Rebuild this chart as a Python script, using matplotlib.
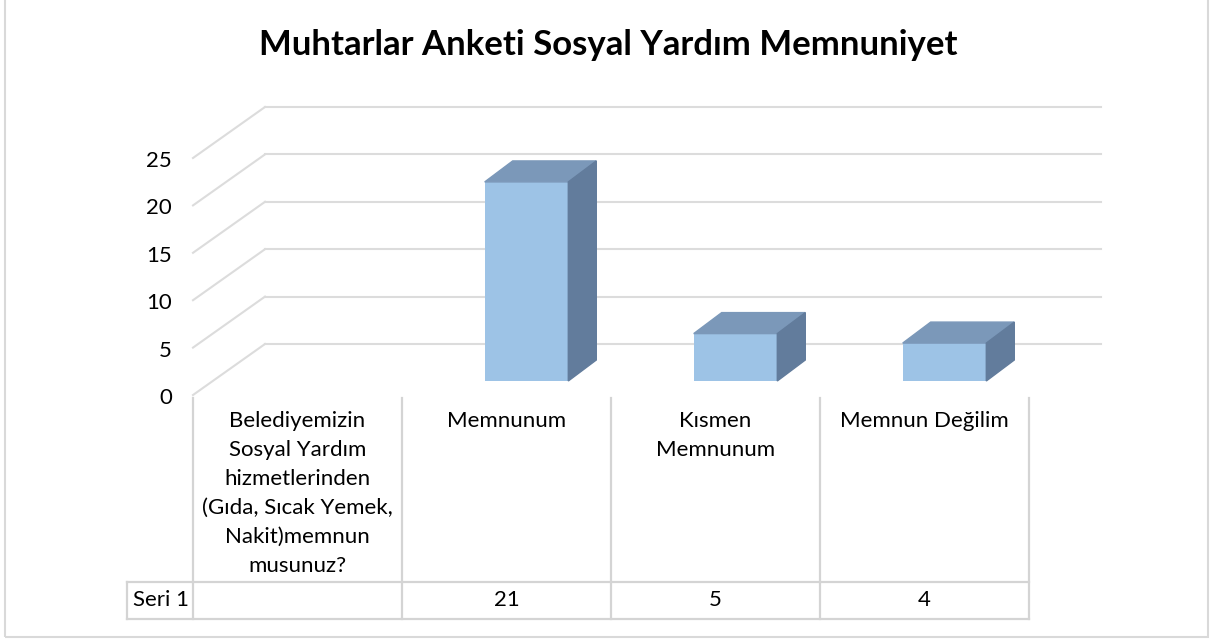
import numpy as np
import matplotlib.pyplot as plt
import matplotlib.transforms as mtransforms
from matplotlib.patches import Polygon, Rectangle

plt.rcParams['font.family'] = ['Lato', 'DejaVu Sans']

title = "Muhtarlar Anketi Sosyal Yardım Memnuniyet"
categories = [
    "Belediyemizin\nSosyal Yardım\nhizmetlerinden\n(Gıda, Sıcak Yemek,\nNakit)memnun\nmusunuz?",
    "Memnunum",
    "Kısmen\nMemnunum",
    "Memnun Değilim",
]
series_name = "Seri 1"
values = [np.nan, 21, 5, 4]
yticks = [0, 5, 10, 15, 20, 25]

W, H = 1211, 641
fig = plt.figure(figsize=(W / 100, H / 100), dpi=100)
fig.patch.set_facecolor("white")

# front plane of the 3d box
ax = fig.add_axes([193 / W, 1 - 395 / H, (1029 - 193) / W, (395 - 158) / H])
ax.set_xlim(0, len(categories))
ax.set_ylim(0, 25)
ax.axis("off")

grid_c = "#dcdcdc"
depth = (72, 51)          # pixel shift from front to back wall
bar_front = (20, 14)      # where the bars start in depth
bar_depth = (28, 21)


def shift(x, y, dxp, dyp):
    px, py = ax.transData.transform((x, y))
    return ax.transData.inverted().transform((px + dxp, py + dyp))


back = mtransforms.offset_copy(ax.transData, fig=fig, x=depth[0], y=depth[1], units="dots")

# gridlines: diagonal on the left wall + horizontal on the back wall
for v in yticks:
    bx, by = shift(0, v, *depth)
    ax.plot([0, bx], [v, by], color=grid_c, lw=1.5, clip_on=False, zorder=1)
    ax.plot([0, len(categories)], [v, v], color=grid_c, lw=1.5, clip_on=False,
            transform=back, zorder=1)
    lbl = mtransforms.offset_copy(ax.transData, fig=fig, x=-21, y=-3, units="dots")
    ax.text(0, v, str(v), ha="right", va="center", fontsize=16, transform=lbl)

# bars
xs = np.arange(len(categories)) + 0.5
bw = 0.4
front_c, top_c, side_c = "#9dc3e6", "#7b98b9", "#627c9c"
bar_tr = mtransforms.offset_copy(ax.transData, fig=fig, x=bar_front[0], y=bar_front[1], units="dots")
for x, v in zip(xs, values):
    if np.isnan(v):
        continue
    ax.bar(x, v, width=bw, color=front_c, transform=bar_tr, clip_on=False, zorder=3)
    x0, x1 = x - bw / 2, x + bw / 2
    f0 = shift(x0, v, *bar_front)
    f1 = shift(x1, v, *bar_front)
    fb = shift(x1, 0, *bar_front)
    d = (bar_front[0] + bar_depth[0], bar_front[1] + bar_depth[1])
    b0 = shift(x0, v, *d)
    b1 = shift(x1, v, *d)
    bb = shift(x1, 0, *d)
    ax.add_patch(Polygon([f0, f1, b1, b0], closed=True, color=top_c, clip_on=False, zorder=3))
    ax.add_patch(Polygon([f1, fb, bb, b1], closed=True, color=side_c, clip_on=False, zorder=3))

# data table under the chart
bl = mtransforms.blended_transform_factory(ax.transData, fig.transFigure)
t_top, t_mid, t_bot = 1 - 398 / H, 1 - 582 / H, 1 - 619 / H
lc = "#d4d4d4"
for i in range(len(categories) + 1):
    ax.plot([i, i], [t_top, t_bot], color=lc, lw=1.6, transform=bl, clip_on=False)
left_x = shift(0, 0, -66, 0)[0]
for yy in (t_mid, t_bot):
    ax.plot([left_x, len(categories)], [yy, yy], color=lc, lw=1.6, transform=bl, clip_on=False)
ax.plot([left_x, left_x], [t_mid, t_bot], color=lc, lw=1.6, transform=bl, clip_on=False)

for x, cat, v in zip(xs, categories, values):
    ax.text(x, 1 - 411 / H, cat, ha="center", va="top", fontsize=16, linespacing=1.56,
            transform=bl)
    if not np.isnan(v):
        ax.text(x, (t_mid + t_bot) / 2, f"{v:g}", ha="center", va="center", fontsize=16,
                transform=bl)
name_tr = mtransforms.offset_copy(bl, fig=fig, x=6, y=0, units="dots")
ax.text(left_x, (t_mid + t_bot) / 2, series_name, ha="left", va="center",
        fontsize=16, transform=name_tr)

fig.text(0.502, 1 - 45 / H, title, ha="center", va="center", fontsize=25, fontweight="bold")

fig.patches.append(Rectangle((5 / W, 4 / H), 1203 / W, 660 / H, transform=fig.transFigure,
                             fill=False, edgecolor="#d9d9d9", lw=1.5))

fig.savefig("out.png", dpi=100)
